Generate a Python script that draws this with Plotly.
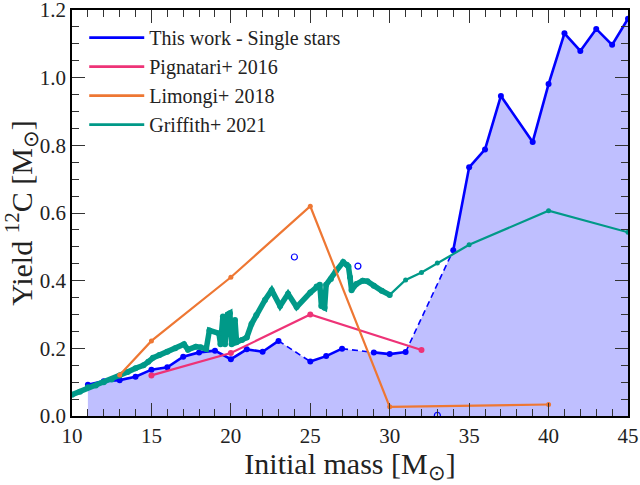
import plotly.graph_objects as go

# ---------------- data ----------------
# This work - single stars (computed models)
mass_this = [11, 12, 13, 14, 15, 16, 17, 18, 19, 20, 21, 22, 23, 25, 26, 27, 29, 30, 31,
             34, 35, 36, 37, 39, 40, 41, 42, 43, 44, 45]
yield_this = [0.092, 0.103, 0.106, 0.116, 0.137, 0.144, 0.175, 0.188, 0.193, 0.168, 0.197,
              0.190, 0.222, 0.161, 0.177, 0.199, 0.188, 0.183, 0.189,
              0.490, 0.735, 0.788, 0.946, 0.810, 0.981, 1.131, 1.079, 1.144, 1.097, 1.174]
# models not used in the fill (open symbols)
mass_open = [24, 28, 33]
yield_open = [0.470, 0.443, 0.002]

mass_pig = [15, 20, 25, 32]
yield_pig = [0.120, 0.186, 0.300, 0.195]

mass_lim = [13, 15, 20, 25, 30, 40]
yield_lim = [0.121, 0.222, 0.410, 0.620, 0.027, 0.034]

# Griffith+ 2021: dense grid part and sparse part
mass_gri_dense = [10.0, 10.5, 11.0, 11.5, 12.0, 12.5, 13.0, 13.5, 14.0, 14.5, 14.8, 15.1, 15.5,
                  16.0, 16.5, 17.05, 17.3, 17.8, 18.1, 18.45, 18.65, 19.25, 19.35, 19.5, 19.63,
                  19.8, 19.94, 20.05, 20.26, 20.36, 20.7, 21.0, 21.3, 21.6, 22.15, 22.57, 23.1,
                  23.6, 24.14, 25.0, 25.4, 25.6, 25.7, 25.9, 26.0, 26.3, 26.6, 27.07, 27.3, 27.4,
                  27.5, 27.6, 27.9, 28.3, 28.6, 29.0, 29.5, 30.0]
yield_gri_dense = [0.063, 0.072, 0.085, 0.090, 0.100, 0.108, 0.120, 0.130, 0.141, 0.150, 0.160,
                   0.172, 0.180, 0.190, 0.200, 0.212, 0.196, 0.205, 0.203, 0.198, 0.253, 0.244,
                   0.212, 0.294, 0.212, 0.300, 0.304, 0.212, 0.284, 0.218, 0.225, 0.232, 0.272,
                   0.298, 0.343, 0.372, 0.325, 0.361, 0.322, 0.365, 0.383, 0.388, 0.325, 0.320,
                   0.388, 0.405, 0.427, 0.455, 0.447, 0.442, 0.410, 0.372, 0.390, 0.400, 0.398,
                   0.385, 0.370, 0.358]
mass_gri = [30, 31, 32, 33, 35, 40, 45]
yield_gri = [0.358, 0.402, 0.424, 0.452, 0.506, 0.607, 0.543]

x_ticks = [10, 15, 20, 25, 30, 35, 40, 45]
y_ticks = [0.0, 0.2, 0.4, 0.6, 0.8, 1.0, 1.2]

BLUE = "#0000FF"
PINK = "#EE3377"
ORANGE = "#EE7733"
TEAL = "#009988"

# ---------------- build blue segments ----------------
solid_x, solid_y = [], []
dash_x, dash_y = [], []
for i in range(len(mass_this)):
    if i > 0:
        a, b = mass_this[i - 1], mass_this[i]
        gap = any(a < m < b for m in mass_open)
        if gap:
            solid_x.append(None); solid_y.append(None)
            dash_x += [a, b, None]; dash_y += [yield_this[i - 1], yield_this[i], None]
    solid_x.append(mass_this[i]); solid_y.append(yield_this[i])

fig = go.Figure()

# fill under this work
fig.add_trace(go.Scatter(x=mass_this, y=yield_this, mode="lines", fill="tozeroy",
                         fillcolor="rgba(0,0,255,0.25)", line=dict(width=0),
                         showlegend=False, hoverinfo="skip"))
fig.add_trace(go.Scatter(x=dash_x, y=dash_y, mode="lines",
                         line=dict(color=BLUE, width=1.6, dash="6px,4px"),
                         showlegend=False))
fig.add_trace(go.Scatter(x=solid_x, y=solid_y, mode="lines+markers",
                         line=dict(color=BLUE, width=2.6), marker=dict(size=6, color=BLUE),
                         showlegend=False))
fig.add_trace(go.Scatter(x=mass_open, y=yield_open, mode="markers",
                         marker=dict(symbol="circle-open", size=6, color=BLUE,
                                     line=dict(width=1.2, color=BLUE)),
                         showlegend=False))
# Pignatari
fig.add_trace(go.Scatter(x=mass_pig, y=yield_pig, mode="lines+markers",
                         line=dict(color=PINK, width=2.2), marker=dict(size=6, color=PINK),
                         showlegend=False))
# Griffith
fig.add_trace(go.Scatter(x=mass_gri_dense, y=yield_gri_dense, mode="lines+markers",
                         line=dict(color=TEAL, width=5.5), marker=dict(size=6, color=TEAL),
                         showlegend=False))
fig.add_trace(go.Scatter(x=mass_gri, y=yield_gri, mode="lines+markers",
                         line=dict(color=TEAL, width=2.2), marker=dict(size=5, color=TEAL),
                         showlegend=False))
# Limongi
fig.add_trace(go.Scatter(x=mass_lim, y=yield_lim, mode="lines+markers",
                         line=dict(color=ORANGE, width=2.2), marker=dict(size=5, color=ORANGE),
                         showlegend=False))

# legend entries
for name, col in [("This work - Single stars", BLUE), ("Pignatari+ 2016", PINK),
                  ("Limongi+ 2018", ORANGE), ("Griffith+ 2021", TEAL)]:
    fig.add_trace(go.Scatter(x=[None], y=[None], mode="lines", name=name,
                             line=dict(color=col, width=2.6)))

FONT = "Liberation Serif"
axis_common = dict(showline=True, mirror="ticks", linecolor="black", linewidth=1.6,
                   ticks="inside", ticklen=13, tickwidth=1.3, tickcolor="#333",
                   showgrid=False, zeroline=False, automargin=False,
                   ticklabeloverflow="allow",
                   tickfont=dict(family=FONT, size=21, color="#222"))

fig.update_xaxes(range=[10, 45], tickvals=x_ticks, ticktext=[str(v) for v in x_ticks],
                 minor=dict(ticks="inside", ticklen=7, tickwidth=1.1, tickcolor="#333", dtick=1,
                            tick0=10, showgrid=False),
                 title=dict(text="Initial mass [M<sub>⊙</sub>]",
                            font=dict(family=FONT, size=30, color="#222"), standoff=5),
                 **axis_common)
fig.update_yaxes(range=[0, 1.2], tickvals=y_ticks, ticktext=[f"{v:.1f}" for v in y_ticks],
                 minor=dict(ticks="inside", ticklen=7, tickwidth=1.1, tickcolor="#333",
                            dtick=0.05, tick0=0, showgrid=False),
                 title=dict(text="Yield <sup>12</sup>C [M<sub>⊙</sub>]",
                            font=dict(family=FONT, size=30, color="#222"), standoff=4),
                 **axis_common)

fig.update_layout(width=640, height=485, template="none",
                  paper_bgcolor="white", plot_bgcolor="white",
                  margin=dict(l=72, r=12, t=10, b=69),
                  legend=dict(x=0.022, y=0.98, xanchor="left", yanchor="top",
                              bgcolor="rgba(0,0,0,0)", font=dict(family=FONT, size=20, color="#222"),
                              itemwidth=55, tracegroupgap=0),
                  showlegend=True)

fig.write_html("out.html", config={"displayModeBar": False},
               post_script="document.body.style.margin='0';document.body.style.overflow='hidden';")
